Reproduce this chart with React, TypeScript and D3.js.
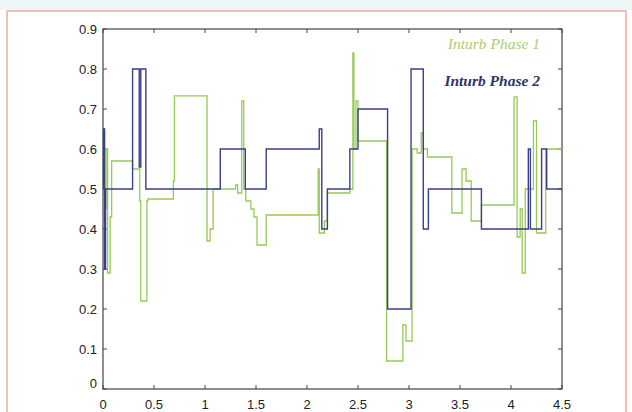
import React from "react"
import * as d3 from "d3"

// step series: value holds from x until the next x
const phase1X = [0, 0.005, 0.015, 0.03, 0.045, 0.07, 0.085, 0.29, 0.33, 0.36, 0.37, 0.43, 0.44, 0.69, 0.7, 1.02, 1.05, 1.08, 1.3, 1.32, 1.36, 1.38, 1.4, 1.45, 1.48, 1.51, 1.6, 2.11, 2.12, 2.17, 2.2, 2.42, 2.45, 2.46, 2.48, 2.5, 2.78, 2.94, 2.97, 3.03, 3.08, 3.12, 3.14, 3.18, 3.42, 3.52, 3.56, 3.61, 3.71, 4.03, 4.06, 4.09, 4.11, 4.14, 4.22, 4.25, 4.34, 4.5]
const phase1Y = [0.5, 0.65, 0.45, 0.6, 0.29, 0.43, 0.57, 0.55, 0.55, 0.47, 0.22, 0.47, 0.475, 0.52, 0.733, 0.37, 0.4, 0.5, 0.51, 0.49, 0.72, 0.5, 0.47, 0.45, 0.43, 0.36, 0.435, 0.55, 0.39, 0.42, 0.49, 0.5, 0.84, 0.6, 0.72, 0.62, 0.07, 0.16, 0.12, 0.6, 0.59, 0.64, 0.6, 0.58, 0.44, 0.55, 0.52, 0.42, 0.46, 0.73, 0.38, 0.45, 0.29, 0.5, 0.67, 0.39, 0.6, 0.6]

const phase2X = [0, 0.005, 0.015, 0.025, 0.29, 0.355, 0.37, 0.42, 1.15, 1.395, 1.6, 2.12, 2.145, 2.2, 2.42, 2.5, 2.79, 3.02, 3.14, 3.19, 3.71, 4.17, 4.19, 4.3, 4.35, 4.5]
const phase2Y = [0.5, 0.65, 0.3, 0.5, 0.8, 0.555, 0.8, 0.5, 0.6, 0.5, 0.6, 0.65, 0.4, 0.5, 0.6, 0.7, 0.2, 0.8, 0.4, 0.5, 0.4, 0.6, 0.4, 0.6, 0.5, 0.5]

const xTicks = [0, 0.5, 1, 1.5, 2, 2.5, 3, 3.5, 4, 4.5]
const yTicks = [0, 0.1, 0.2, 0.3, 0.4, 0.5, 0.6, 0.7, 0.8, 0.9]
const legendNames = ["Inturb Phase 1", "Inturb Phase 2"]

const W = 632, H = 412
const left = 103, right = 562, top = 29, bottom = 389

export default function App() {
  const x = d3.scaleLinear().domain([0, 4.5]).range([left, right])
  const y = d3.scaleLinear().domain([0, 0.9]).range([bottom, top])

  const line = d3.line<[number, number]>()
    .x(d => x(d[0]))
    .y(d => y(d[1]))
    .curve(d3.curveStepAfter)

  const p1 = line(phase1X.map((v, i) => [v, phase1Y[i]] as [number, number]))
  const p2 = line(phase2X.map((v, i) => [v, phase2Y[i]] as [number, number]))

  const fmt = (v: number) => (v === 0 ? "0" : String(v))

  return (
    <svg width={W} height={H} style={{ position: "absolute", left: 0, top: 0 }}
      fontFamily="Liberation Sans, Arial, sans-serif">
      <rect x={0} y={0} width={W} height={H} fill="#fff" />
      <rect x={0} y={0} width={W} height={10} fill="#eef6f5" />
      {/* pink outer frame */}
      <rect x={7} y={11} width={619} height={H} fill="none" stroke="#f0a8a4" strokeWidth={1.5} />

      {/* plot box */}
      <rect x={left} y={top} width={right - left} height={bottom - top} fill="none" stroke="#444" strokeWidth={1.2} />

      {xTicks.map(t => (
        <g key={"x" + t}>
          <line x1={x(t)} x2={x(t)} y1={bottom} y2={bottom - 4} stroke="#444" />
          <line x1={x(t)} x2={x(t)} y1={top} y2={top + 4} stroke="#444" />
          <text x={x(t)} y={409} textAnchor="middle" fontSize={13} fill="#222">{fmt(t)}</text>
        </g>
      ))}
      {yTicks.map(t => (
        <g key={"y" + t}>
          <line x1={left} x2={left + 4} y1={y(t)} y2={y(t)} stroke="#444" />
          <line x1={right} x2={right - 4} y1={y(t)} y2={y(t)} stroke="#444" />
          <text x={97} y={t === 0 ? y(t) - 1 : y(t) + 4.5} textAnchor="end" fontSize={13} fill="#222">{fmt(t)}</text>
        </g>
      ))}

      <path d={p1 ?? ""} fill="none" stroke="#96ca55" strokeWidth={1.3} />
      <path d={p2 ?? ""} fill="none" stroke="#3a3f8c" strokeWidth={1.4} />

      <text x={540} y={49} textAnchor="end" fontFamily="Liberation Serif, serif" fontStyle="italic"
        fontSize={15.5} fill="#a9d06c">{legendNames[0]}</text>
      <text x={540} y={86} textAnchor="end" fontFamily="Liberation Serif, serif" fontStyle="italic"
        fontWeight="bold" fontSize={15.5} fill="#2e3562">{legendNames[1]}</text>
    </svg>
  )
}
